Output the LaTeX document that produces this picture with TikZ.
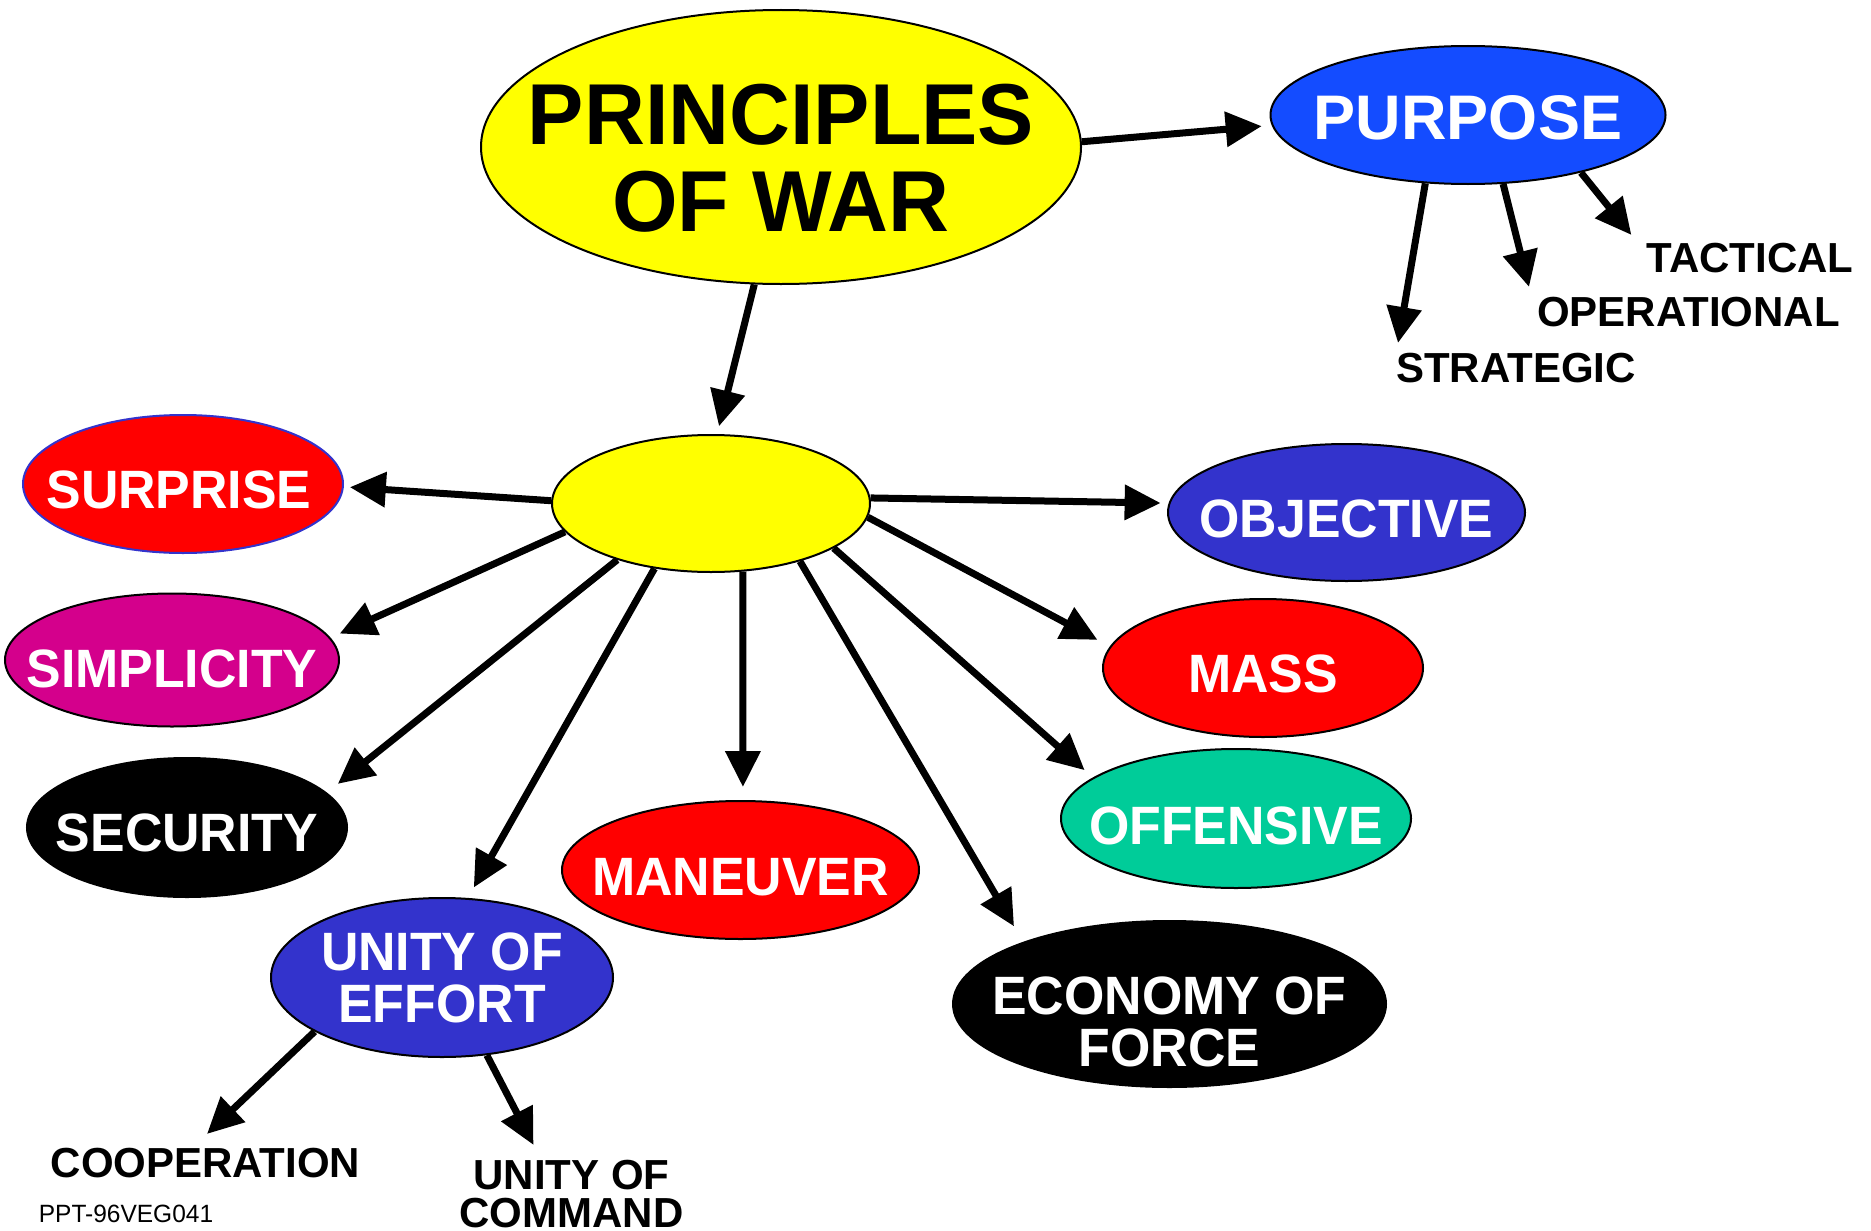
\documentclass[tikz,border=0pt]{standalone}
\usepackage{fontspec}
\setmainfont{Liberation Sans}
\usetikzlibrary{arrows.meta,shapes.geometric}

\definecolor{pwyellow}{RGB}{255,255,0}
\definecolor{pwblue}{RGB}{20,76,255}
\definecolor{pwindigo}{RGB}{51,51,204}
\definecolor{pwred}{RGB}{255,0,0}
\definecolor{pwmagenta}{RGB}{212,0,140}
\definecolor{pwteal}{RGB}{0,204,153}

% size, baseline, horizontal stretch
\newcommand\pwfont[3]{\fontsize{#1}{#2}\selectfont\addfontfeatures{FakeStretch=#3}}

\tikzset{
  bubble/.style={ellipse, draw=black, line width=2pt, inner sep=0pt},
  btext/.style={text=white, align=center, inner sep=0pt, font=\bfseries\pwfont{54}{52}{0.96}},
  tag/.style={inner sep=0pt, align=center, font=\bfseries\pwfont{42}{38}{1}},
  link/.style={line width=7pt, -{Triangle[length=36pt,width=34pt]}},
}

\begin{document}
\begin{tikzpicture}[x=1pt, y=-1pt]
\useasboundingbox (0,0) rectangle (1871,1231);

% ellipses (manual positions)
\node[bubble, fill=pwyellow, minimum width=600pt, minimum height=274pt] (pow) at (781,147) {};
\node[bubble, fill=pwblue, minimum width=395pt, minimum height=138pt] (purpose) at (1468,115) {};
\node[bubble, fill=pwyellow, minimum width=318pt, minimum height=137pt] (hub) at (711,503.5) {};
\node[bubble, fill=pwred, draw=pwindigo, minimum width=320pt, minimum height=138pt] (surprise) at (183,484) {};
\node[bubble, fill=pwmagenta, minimum width=334pt, minimum height=133pt] (simplicity) at (172,660) {};
\node[bubble, fill=black, minimum width=320pt, minimum height=139pt] (security) at (187,827.5) {};
\node[bubble, fill=pwindigo, minimum width=342pt, minimum height=159pt] (unity) at (442,977.5) {};
\node[bubble, fill=pwred, minimum width=357pt, minimum height=138pt] (maneuver) at (740.5,870) {};
\node[bubble, fill=black, minimum width=433pt, minimum height=166pt] (economy) at (1169.5,1004) {};
\node[bubble, fill=pwteal, minimum width=350pt, minimum height=139pt] (offensive) at (1236,818.5) {};
\node[bubble, fill=pwred, minimum width=320pt, minimum height=138pt] (mass) at (1263,668) {};
\node[bubble, fill=pwindigo, minimum width=357pt, minimum height=137pt] (objective) at (1346.5,512.5) {};

% ellipse texts
\node[btext, text=black, font=\bfseries\pwfont{86.5}{87}{0.975}] (pow-txt) at ([yshift=-11pt]pow) {PRINCIPLES\\OF WAR};
\node[btext, font=\bfseries\pwfont{63}{60}{1}] (purpose-txt) at ([yshift=-3pt]purpose) {PURPOSE};
\node[btext] (surprise-txt) at ([shift={(-4,6)}]surprise) {SURPRISE};
\node[btext] (simplicity-txt) at ([yshift=-9pt]simplicity) {SIMPLICITY};
\node[btext] (security-txt) at ([yshift=-5pt]security) {SECURITY};
\node[btext] (unity-txt) at (unity) {UNITY OF\\EFFORT};
\node[btext] (maneuver-txt) at ([yshift=-7pt]maneuver) {MANEUVER};
\node[btext] (economy-txt) at ([yshift=-18pt]economy) {ECONOMY OF\\FORCE};
\node[btext] (offensive-txt) at ([yshift=-7pt]offensive) {OFFENSIVE};
\node[btext] (mass-txt) at ([yshift=-6pt]mass) {MASS};
\node[btext] (objective-txt) at ([yshift=-6pt]objective) {OBJECTIVE};

% plain labels
\node[tag] (tactical) at (1750,258) {TACTICAL};
\node[tag] (operational) at (1688.5,312) {OPERATIONAL};
\node[tag] (strategic) at (1516,368) {STRATEGIC};
\node[tag] (cooperation) at (205.5,1163) {COOPERATION};
\node[tag] (ucommand) at (571.5,1194) {UNITY OF\\COMMAND};
\node[inner sep=0pt, font=\pwfont{25}{30}{0.98}] (pptref) at (126,1214) {PPT-96VEG041};

% arrows
\draw[link, shorten >=10pt] (pow.1) -- (purpose.183);
\draw[link, shorten >=8pt] (pow.259) -- (hub.85.5);
\draw[link, shorten >=6pt] (hub.179) -- (surprise.359);
\draw[link, shorten >=10pt] (hub.191) -- (simplicity.8.5);
\draw[link, shorten >=14pt] (hub.211) -- (security.14.7);
\draw[link, shorten >=12pt] (hub.229) -- (unity.72);
\draw[link, shorten >=13pt] (hub.295) -- (maneuver.88);
\draw[link, shorten >=18pt] (hub.327) -- (economy.157);
\draw[link, shorten >=11pt] (hub.340) -- (offensive.164);
\draw[link, shorten >=14pt] (hub.355) -- (mass.172);
\draw[link, shorten >=8pt] (hub.2.3) -- (objective.177.7);

\draw[link] (purpose.238) -- ([shift={(2,-10)}]strategic.north west);
\draw[link] (purpose.297.6) -- ([shift={(-8,-10)}]operational.north west);
\draw[link] (purpose.333.6) -- ([shift={(-15,-8)}]tactical.north west);
\draw[link] (unity.203) -- ([shift={(1.5,-14)}]cooperation.north);
\draw[link] (unity.300.7) -- ([shift={(-38,-15)}]ucommand.north);

\end{tikzpicture}
\end{document}
